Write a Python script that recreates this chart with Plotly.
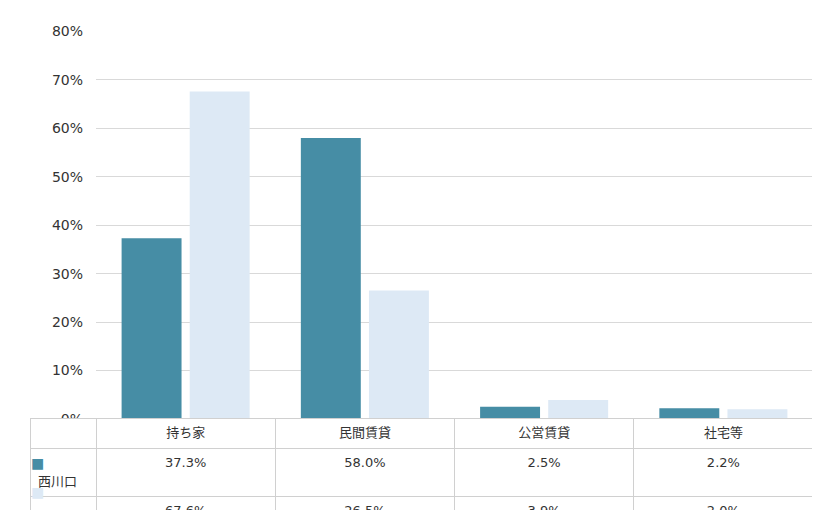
import plotly.graph_objects as go

categories = ["持ち家", "民間賃貸", "公営賃貸", "社宅等"]
nishikawaguchi = [37.3, 58.0, 2.5, 2.2]
saitama = [67.6, 26.5, 3.9, 2.0]
series_names = ["西川口", "埼玉県"]
colors = ["#468da5", "#dde9f5"]

W, H = 820, 510
FONT = "DejaVu Sans, Noto Sans CJK JP, sans-serif"

fig = go.Figure()
for name, vals, c in zip(series_names, [nishikawaguchi, saitama], colors):
    fig.add_trace(go.Bar(x=categories, y=[v / 100 for v in vals], name=name,
                         marker=dict(color=c, line=dict(width=0)), showlegend=False))

# data table under the chart
first_col = ["   " + n for n in series_names]
cols = [first_col] + [[f"{a:.1f}%", f"{b:.1f}%"] for a, b in zip(nishikawaguchi, saitama)]
fig.add_trace(go.Table(
    domain=dict(x=[22 / W, 805 / W], y=[0, 94 / H]),
    columnwidth=[66] + [179.25] * 4,
    header=dict(values=[""] + categories, height=30, align="center",
                fill_color="white", line=dict(color="#d0d0d0", width=1),
                font=dict(family=FONT, size=13, color="#333")),
    cells=dict(values=cols, height=30, align=["left", "center"],
               fill_color="white", line=dict(color="#d0d0d0", width=1),
               font=dict(family=FONT, size=13, color="#333")),
))

# legend keys in the table's first column
for i, c in enumerate(colors):
    fig.add_annotation(xref="paper", yref="paper", x=30 / W, y=(94 - 45 - 30 * i) / H,
                       text="■", showarrow=False, font=dict(size=14, color=c),
                       xanchor="center", yanchor="middle")

fig.update_layout(
    width=W, height=H, margin=dict(l=0, r=0, t=0, b=0),
    paper_bgcolor="white", plot_bgcolor="white",
    barmode="group", bargap=0.24, bargroupgap=0.12,
    font=dict(family=FONT, size=13, color="#333"),
    xaxis=dict(domain=[88 / W, 805 / W], showticklabels=False, showline=False),
    yaxis=dict(domain=[94 / H, 494 / H], range=[0, 0.8], dtick=0.1, tickformat=".0%",
               gridcolor="#d9d9d9", zeroline=True, zerolinecolor="#d9d9d9",
               ticks="", ticklabelstandoff=12, tickfont=dict(size=14)),
)

fig.write_html("out.html")
